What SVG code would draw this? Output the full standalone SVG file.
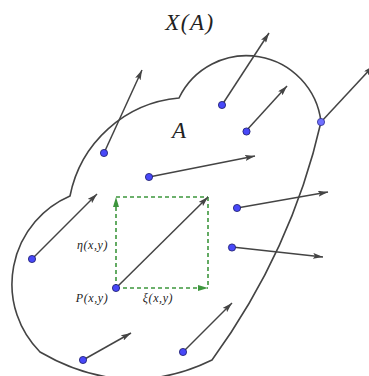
<svg xmlns="http://www.w3.org/2000/svg" width="369" height="376" viewBox="0 0 369 376">
<style>
.outline{fill:none;stroke:#444;stroke-width:1.6}
.vec{stroke:#444;stroke-width:1.5;fill:none}
.pt{fill:#4848f8;stroke:#1a1a6a;stroke-width:0.8}
.pt2{fill:#7070ff;stroke:#303090;stroke-width:0.8}
.grn{stroke:#3d963d;stroke-width:1.6;stroke-dasharray:4 3;fill:none}
.lbl{font-style:italic;fill:#222}
.sm{font-size:12px;letter-spacing:0.6px}
</style>
<defs>
<marker id="ah" viewBox="0 0 10 6" refX="10" refY="3" markerWidth="10" markerHeight="6" markerUnits="userSpaceOnUse" orient="auto">
<path d="M0,0 L10,3 L0,6 L2,3 Z" fill="#444"/>
</marker>
<marker id="gh" viewBox="0 0 10 6" refX="10" refY="3" markerWidth="10" markerHeight="6" markerUnits="userSpaceOnUse" orient="auto">
<path d="M0,0 L10,3 L0,6 Z" fill="#3d963d"/>
</marker>
</defs>
<g id="region-A">
<path class="outline" d="M70,196 A122,122 0 0 1 179,98 A75,75 0 0 1 321,122 Q292,250 212,360 Q126,402 40,352 A96,96 0 0 1 70,196 Z"/>
</g>
<g id="connectors">
<line class="vec" x1="104" y1="153" x2="142" y2="70" marker-end="url(#ah)"/>
<line class="vec" x1="149" y1="177" x2="255" y2="156" marker-end="url(#ah)"/>
<line class="vec" x1="222" y1="105" x2="269" y2="33" marker-end="url(#ah)"/>
<line class="vec" x1="246" y1="131" x2="287" y2="86" marker-end="url(#ah)"/>
<line class="vec" x1="321" y1="122" x2="373" y2="66" marker-end="url(#ah)"/>
<line class="vec" x1="237" y1="208" x2="328" y2="192" marker-end="url(#ah)"/>
<line class="vec" x1="232" y1="247" x2="323" y2="257" marker-end="url(#ah)"/>
<line class="vec" x1="32" y1="259" x2="97" y2="194" marker-end="url(#ah)"/>
<line class="vec" x1="83" y1="360" x2="131" y2="333" marker-end="url(#ah)"/>
<line class="vec" x1="183" y1="352" x2="232" y2="303" marker-end="url(#ah)"/>
<line class="grn" x1="116" y1="197" x2="208" y2="197"/>
<line class="grn" x1="208" y1="197" x2="208" y2="288"/>
<line class="grn" x1="116" y1="288" x2="116" y2="197" marker-end="url(#gh)"/>
<line class="grn" x1="116" y1="288" x2="208" y2="288" marker-end="url(#gh)"/>
<line class="vec" x1="116" y1="288" x2="208" y2="197" marker-end="url(#ah)"/>
</g>
<g id="points">
<circle class="pt" cx="104" cy="153" r="3.6"/>
<circle class="pt" cx="149" cy="177" r="3.6"/>
<circle class="pt" cx="222" cy="105" r="3.6"/>
<circle class="pt" cx="246.5" cy="131.5" r="3.6"/>
<circle class="pt2" cx="321" cy="122" r="3.6"/>
<circle class="pt" cx="237" cy="208" r="3.6"/>
<circle class="pt" cx="232" cy="247.5" r="3.6"/>
<circle class="pt" cx="32" cy="259" r="3.6"/>
<circle id="P" class="pt" cx="116" cy="288" r="3.6"/>
<circle class="pt" cx="83" cy="360" r="3.6"/>
<circle class="pt" cx="183" cy="352" r="3.6"/>
</g>
<g id="labels" font-family="'Liberation Serif','DejaVu Serif',serif">
<text class="lbl" x="190" y="30" font-size="23" letter-spacing="1.5" text-anchor="middle">X(A)</text>
<text class="lbl" x="172" y="138" font-size="23">A</text>
<text class="lbl sm" x="92.5" y="249" text-anchor="middle">η(x,y)</text>
<text class="lbl sm" x="92" y="302" text-anchor="middle">P(x,y)</text>
<text class="lbl sm" x="158" y="302" text-anchor="middle">ξ(x,y)</text>
</g>
</svg>
